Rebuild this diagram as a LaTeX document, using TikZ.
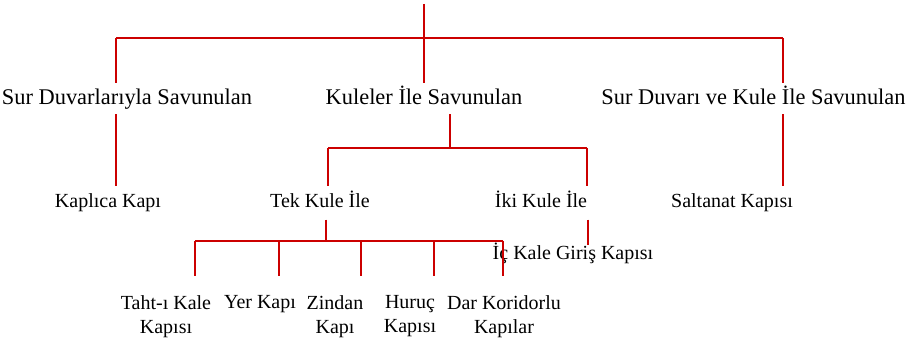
\documentclass[tikz,border=0pt]{standalone}
\usepackage{fontspec}
\setmainfont{Liberation Serif}
\definecolor{linkred}{HTML}{CC0000}

\begin{document}
\begin{tikzpicture}[
    x=0.5pt, y=-0.5pt,
    link/.style={linkred, line width=1pt},
    main/.style={font=\fontsize{11.2}{13.4}\selectfont, text height=7.5pt, text depth=2.4pt, inner xsep=0pt, inner ysep=2.6pt},
    sub/.style={font=\fontsize{10}{12}\selectfont, text height=7pt, text depth=2.2pt, inner xsep=0pt, inner ysep=3.5pt},
    leaf/.style={font=\fontsize{10}{12}\selectfont, align=center, anchor=north, inner xsep=0pt, inner ysep=9.5pt}
]

\useasboundingbox (0,0) rectangle (917,340);

% Birinci seviye
\node[main] (sur) at (127,99) {Sur Duvarlarıyla Savunulan};
\node[main] (kuleler) at (424,99) {Kuleler İle Savunulan};
\node[main] (surkule) at (753.5,99) {Sur Duvarı ve Kule İle Savunulan};

% İkinci seviye
\node[sub] (kaplica) at (108,203) {Kaplıca Kapı};
\node[sub] (tek) at (320,203) {Tek Kule İle};
\node[sub] (iki) at (541,203) {İki Kule İle};
\node[sub] (saltanat) at (732,203) {Saltanat Kapısı};
\node[sub, inner ysep=0pt] (ickale) at (573,255) {İç Kale Giriş Kapısı};

% Üçüncü seviye
\node[leaf] (taht) at (166,276) {Taht-ı Kale\\Kapısı};
\node[leaf] (yer) at (260,276) {Yer Kapı};
\node[leaf] (zindan) at (335,276) {Zindan\\Kapı};
\node[leaf] (huruc) at (410,276) {Huruç\\Kapısı};
\node[leaf] (dar) at (504,276) {Dar Koridorlu\\Kapılar};

% Bağlantı noktaları
\coordinate (top) at (424,4);
\coordinate (barL) at (116,38);
\coordinate (barR) at (783,38);
\coordinate (kbar) at (450,148);
\coordinate (kbarL) at (328,148);
\coordinate (kbarR) at (587,148);
\coordinate (tbar) at (326,241);
\coordinate (tbarL) at (195,241);
\coordinate (tbarR) at (503,241);
\coordinate (dY) at (279,241);
\coordinate (dZ) at (361,241);
\coordinate (dH) at (434,241);
\coordinate (icx) at (588,0);

% Ana dal
\draw[link] (top) -- (kuleler);
\draw[link] (barL) -- (barR);
\draw[link] (barL) -- (barL |- sur.north);
\draw[link] (barR) -- (barR |- surkule.north);

% İkinci seviye dalları
\draw[link] (sur.south -| barL) -- (barL |- kaplica.north);
\draw[link] (kuleler.south -| kbar) -- (kbar);
\draw[link] (kbarL) -- (kbarR);
\draw[link] (kbarL) -- (kbarL |- tek.north);
\draw[link] (kbarR) -- (kbarR |- iki.north);
\draw[link] (surkule.south -| barR) -- (barR |- saltanat.north);

% Tek kule dalları
\draw[link] (tek.south -| tbar) -- (tbar);
\draw[link] (tbarL) -- (tbarR);
\draw[link] (tbarL) -- (tbarL |- taht.north);
\draw[link] (dY) -- (dY |- yer.north);
\draw[link] (dZ) -- (dZ |- zindan.north);
\draw[link] (dH) -- (dH |- huruc.north);
\draw[link] (tbarR) -- (tbarR |- dar.north);

% İki kule dalı
\draw[link] (iki.south -| icx) -- (icx |- ickale.north);

\end{tikzpicture}
\end{document}
